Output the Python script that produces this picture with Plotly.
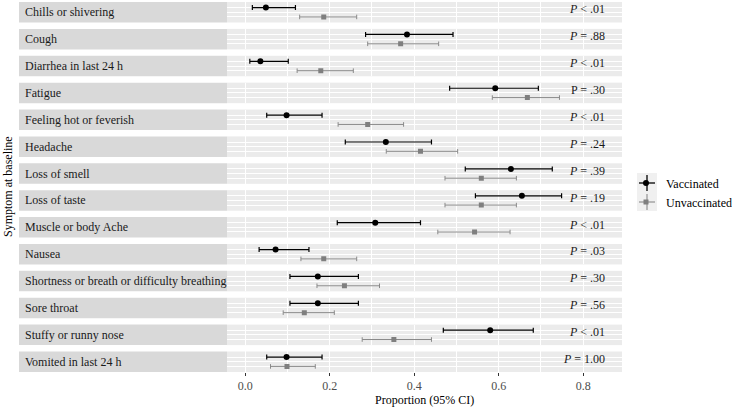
import plotly.graph_objects as go
from plotly.subplots import make_subplots

symptoms = [
    "Chills or shivering", "Cough", "Diarrhea in last 24 h", "Fatigue",
    "Feeling hot or feverish", "Headache", "Loss of smell", "Loss of taste",
    "Muscle or body Ache", "Nausea", "Shortness or breath or difficulty breathing",
    "Sore throat", "Stuffy or runny nose", "Vomited in last 24 h",
]
vacc_est = [0.049, 0.383, 0.036, 0.592, 0.098, 0.333, 0.629, 0.655, 0.308, 0.072, 0.172, 0.172, 0.580, 0.098]
vacc_lo  = [0.017, 0.285, 0.011, 0.484, 0.051, 0.237, 0.521, 0.545, 0.218, 0.033, 0.106, 0.106, 0.469, 0.051]
vacc_hi  = [0.119, 0.492, 0.102, 0.694, 0.182, 0.441, 0.727, 0.749, 0.415, 0.151, 0.268, 0.268, 0.682, 0.182]
unv_est  = [0.186, 0.368, 0.179, 0.668, 0.290, 0.415, 0.559, 0.559, 0.543, 0.186, 0.235, 0.140, 0.352, 0.099]
unv_lo   = [0.129, 0.290, 0.123, 0.585, 0.220, 0.334, 0.473, 0.473, 0.456, 0.132, 0.170, 0.090, 0.277, 0.060]
unv_hi   = [0.264, 0.458, 0.256, 0.744, 0.375, 0.503, 0.642, 0.642, 0.627, 0.264, 0.318, 0.211, 0.441, 0.166]
p_labels = ["<i>P</i> < .01", "<i>P</i> = .88", "<i>P</i> < .01", "P = .30",
            "<i>P</i> < .01", "<i>P</i> = .24", "<i>P</i> = .39", "<i>P</i> = .19",
            "<i>P</i> < .01", "<i>P</i> = .03", "<i>P</i> = .30", "<i>P</i> = .56",
            "<i>P</i> < .01", "<i>P</i> = 1.00"]
x_ticks = [0.0, 0.2, 0.4, 0.6, 0.8]
x_tick_text = ["0.0", "0.2", "0.4", "0.6", "0.8"]
x_minor = [0.1, 0.3, 0.5, 0.7]

FONT = "Liberation Serif"
n = len(symptoms)
W, H = 732, 408
ML, MR, MT, MB = 19, 110, 2, 36
PW = W - ML - MR
PH = H - MT - MB
dom0 = (227 - ML) / PW

def px_x(p):
    return (p - ML) / PW

def px_y(p):
    return (H - MB - p) / PH

fig = make_subplots(rows=n, cols=1, shared_xaxes=True, vertical_spacing=0.01725)

for i in range(n):
    r = i + 1
    fig.add_trace(go.Scatter(
        x=[vacc_est[i]], y=[2], mode="markers", name="Vaccinated",
        legendgroup="v", showlegend=(i == 0),
        marker=dict(color="black", size=6, symbol="circle"),
        error_x=dict(type="data", symmetric=False,
                     array=[vacc_hi[i] - vacc_est[i]],
                     arrayminus=[vacc_est[i] - vacc_lo[i]],
                     color="black", thickness=1.2, width=2.5),
    ), row=r, col=1)
    fig.add_trace(go.Scatter(
        x=[unv_est[i]], y=[1], mode="markers", name="Unvaccinated",
        legendgroup="u", showlegend=(i == 0),
        marker=dict(color="#7f7f7f", size=5, symbol="square"),
        error_x=dict(type="data", symmetric=False,
                     array=[unv_hi[i] - unv_est[i]],
                     arrayminus=[unv_est[i] - unv_lo[i]],
                     color="#8a8a8a", thickness=1, width=2.3),
    ), row=r, col=1)
    ysuf = "" if r == 1 else str(r)
    fig.add_shape(type="rect", xref="paper", yref=f"y{ysuf} domain",
                  x0=0, x1=dom0, y0=0, y1=1, fillcolor="#d9d9d9",
                  line=dict(width=0), layer="below")
    fig.add_annotation(text=symptoms[i], xref="paper", yref=f"y{ysuf} domain",
                       x=4 / PW, y=0.5, xanchor="left", yanchor="middle",
                       showarrow=False, font=dict(family=FONT, size=12, color="#1a1a1a"))
    fig.add_annotation(text=p_labels[i], xref=f"x{ysuf}", yref=f"y{ysuf}",
                       x=0.857, y=1.8, xanchor="right", yanchor="middle",
                       showarrow=False, font=dict(family=FONT, size=12, color="#1a1a1a"))

fig.update_xaxes(domain=[dom0, 1], range=[-0.043, 0.892], tickvals=x_ticks,
                 ticktext=x_tick_text, showgrid=True, gridcolor="white", gridwidth=1.1,
                 zeroline=False, showline=False, automargin=False,
                 minor=dict(tickvals=x_minor, showgrid=True, gridcolor="white", gridwidth=0.6))
fig.update_xaxes(showticklabels=False, ticks="")
fig.update_xaxes(showticklabels=True, ticks="outside", ticklen=3, tickcolor="#333333",
                 tickfont=dict(family=FONT, size=12, color="#4d4d4d"), row=n, col=1)
fig.update_yaxes(range=[0.4, 2.6], tickvals=[1, 2], showticklabels=False, showgrid=True,
                 gridcolor="white", gridwidth=1.0, zeroline=False, showline=False,
                 automargin=False,
                 minor=dict(tickvals=[1.5], showgrid=True, gridcolor="white", gridwidth=0.6))

fig.add_annotation(text="Symptom at baseline", xref="paper", yref="paper",
                   x=-11 / PW, y=0.5, textangle=-90, showarrow=False,
                   xanchor="center", yanchor="middle",
                   font=dict(family=FONT, size=12, color="black"))
fig.add_annotation(text="Proportion (95% CI)", xref="paper", yref="paper",
                   x=(dom0 + 1) / 2, y=-28 / PH, showarrow=False,
                   xanchor="center", yanchor="middle",
                   font=dict(family=FONT, size=12, color="black"))

# legend key decoration (ggplot-style grey key box with pointrange cross)
KX = 647
fig.add_shape(type="rect", xref="paper", yref="paper",
              x0=px_x(KX - 10), x1=px_x(KX + 10), y0=px_y(211), y1=px_y(173),
              fillcolor="#f0f0f0", line=dict(width=0), layer="below")
for cy, col, lw in [(183, "black", 1.3), (202, "#8a8a8a", 1.1)]:
    fig.add_shape(type="line", xref="paper", yref="paper",
                  x0=px_x(KX), x1=px_x(KX), y0=px_y(cy - 8), y1=px_y(cy + 8),
                  line=dict(color=col, width=lw))
    fig.add_shape(type="line", xref="paper", yref="paper",
                  x0=px_x(KX - 8), x1=px_x(KX + 8), y0=px_y(cy), y1=px_y(cy),
                  line=dict(color=col, width=lw))

fig.update_layout(
    width=W, height=H,
    margin=dict(l=ML, r=MR, t=MT, b=MB, pad=0, autoexpand=False),
    plot_bgcolor="#ebebeb", paper_bgcolor="white",
    font=dict(family=FONT, size=12, color="black"),
    legend=dict(x=px_x(KX - 21), y=px_y(192.5), xanchor="left", yanchor="middle",
                font=dict(family=FONT, size=12, color="black"),
                bgcolor="rgba(0,0,0,0)", itemwidth=30, tracegroupgap=0),
)

fig.write_html("out.html", config={"displayModeBar": False},
               post_script="document.body.style.margin='0';document.body.style.overflow='hidden';")
